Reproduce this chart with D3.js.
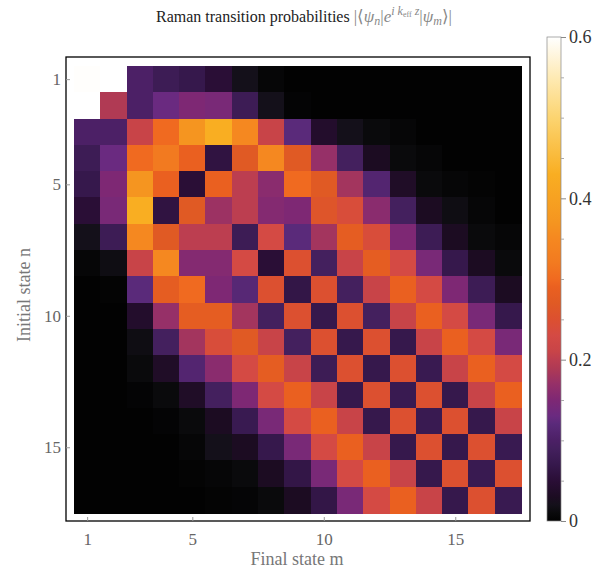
<!DOCTYPE html>
<html>
<head>
<meta charset="utf-8">
<script src="https://cdn.jsdelivr.net/npm/d3@7"></script>
<style>
  body { margin: 0; background: #fff; }
  svg text { font-family: "Liberation Serif", "DejaVu Serif", serif; }
</style>
</head>
<body>
<div id="chart"></div>
<script>
"use strict"
// rows = initial state n, cols = final state m
var estados = d3.range(1, 18)
var ticksEstado = [1, 5, 10, 15]
var ticksCor = [0, 0.2, 0.4, 0.6]

var linha1  = [0.598, 0.62, 0.10, 0.08, 0.07, 0.05, 0.02, 0.005, 0, 0, 0, 0, 0, 0, 0, 0, 0]
var linha2  = [0.62, 0.19, 0.10, 0.13, 0.15, 0.145, 0.08, 0.02, 0.003, 0, 0, 0, 0, 0, 0, 0, 0]
var linha3  = [0.10, 0.10, 0.21, 0.30, 0.37, 0.43, 0.35, 0.21, 0.12, 0.04, 0.02, 0.01, 0.005, 0, 0, 0, 0]
var linha4  = [0.08, 0.13, 0.30, 0.32, 0.29, 0.06, 0.27, 0.35, 0.27, 0.17, 0.09, 0.03, 0.01, 0.005, 0, 0, 0]
var linha5  = [0.07, 0.15, 0.37, 0.29, 0.05, 0.29, 0.20, 0.16, 0.30, 0.27, 0.18, 0.11, 0.035, 0.01, 0.005, 0.002, 0]
var linha6  = [0.05, 0.145, 0.43, 0.06, 0.27, 0.175, 0.20, 0.155, 0.15, 0.26, 0.24, 0.16, 0.09, 0.03, 0.015, 0.005, 0]
var linha7  = [0.02, 0.08, 0.35, 0.27, 0.20, 0.20, 0.08, 0.23, 0.12, 0.18, 0.28, 0.24, 0.15, 0.08, 0.03, 0.01, 0.005]
var linha8  = [0.005, 0.015, 0.21, 0.35, 0.155, 0.155, 0.23, 0.05, 0.25, 0.09, 0.21, 0.28, 0.23, 0.145, 0.07, 0.03, 0.01]
var linha9  = [0, 0.002, 0.12, 0.28, 0.30, 0.15, 0.115, 0.25, 0.065, 0.25, 0.09, 0.21, 0.29, 0.23, 0.15, 0.08, 0.03]
var linha10 = [0, 0, 0.04, 0.17, 0.28, 0.28, 0.18, 0.09, 0.25, 0.07, 0.25, 0.09, 0.21, 0.29, 0.23, 0.145, 0.07]
var linha11 = [0, 0, 0.015, 0.09, 0.18, 0.24, 0.27, 0.21, 0.09, 0.25, 0.07, 0.25, 0.07, 0.21, 0.29, 0.23, 0.145]
var linha12 = [0, 0, 0.01, 0.035, 0.11, 0.16, 0.23, 0.28, 0.21, 0.08, 0.25, 0.07, 0.25, 0.075, 0.21, 0.29, 0.23]
var linha13 = [0, 0, 0.003, 0.01, 0.035, 0.09, 0.15, 0.23, 0.29, 0.21, 0.07, 0.25, 0.075, 0.25, 0.07, 0.21, 0.29]
var linha14 = [0, 0, 0, 0.003, 0.01, 0.03, 0.075, 0.145, 0.23, 0.29, 0.21, 0.07, 0.25, 0.075, 0.25, 0.07, 0.21]
var linha15 = [0, 0, 0, 0, 0.005, 0.02, 0.03, 0.07, 0.145, 0.23, 0.29, 0.21, 0.07, 0.25, 0.07, 0.25, 0.075]
var linha16 = [0, 0, 0, 0, 0.002, 0.005, 0.01, 0.03, 0.065, 0.145, 0.23, 0.29, 0.21, 0.07, 0.25, 0.075, 0.25]
var linha17 = [0, 0, 0, 0, 0, 0.002, 0.004, 0.01, 0.03, 0.065, 0.145, 0.23, 0.29, 0.21, 0.07, 0.25, 0.075]

var matriz = [linha1, linha2, linha3, linha4, linha5, linha6, linha7, linha8, linha9,
              linha10, linha11, linha12, linha13, linha14, linha15, linha16, linha17]

// gradient stops (sunset-like)
var corValores = [0, 0.01, 0.02, 0.03, 0.05, 0.07, 0.09, 0.10, 0.12, 0.13, 0.15, 0.17, 0.19, 0.20, 0.21, 0.23, 0.25, 0.27, 0.29, 0.30, 0.32, 0.35, 0.37, 0.43, 0.50, 0.55, 0.60]
var corCores = ["#020202", "#0a0a0c", "#14101a", "#1c0c22", "#2a0e36", "#36184c", "#44205e", "#4c2066", "#5a2a7a", "#6a2a80", "#7e2874", "#963068", "#b03a54", "#bc3e50", "#c84448", "#d44a44", "#dc5030", "#e05a24", "#ea6020", "#f06a20", "#f27a20", "#f58820", "#f59520", "#f9ae22", "#fcd470", "#feeab4", "#ffffff"]

var largura = 608, altura = 571
var frame = {x0: 66, y0: 57, x1: 530, y1: 521}
var mat = {x0: 74, y0: 66, x1: 521, y1: 513}
var serif = '"Liberation Serif", "DejaVu Serif", serif'

var svg = d3.select('#chart').append('svg')
  .attr('width', largura).attr('height', altura)

var x = d3.scaleBand().domain(estados).range([mat.x0, mat.x1])
var y = d3.scaleBand().domain(estados).range([mat.y0, mat.y1])
var cor = d3.scaleLinear().domain(corValores).range(corCores).clamp(true)

var celulas = []
matriz.forEach(function (linha, i) {
  linha.forEach(function (v, j) {
    celulas.push({n: estados[i], m: estados[j], v: v})
  })
})

svg.append('g').selectAll('rect')
  .data(celulas)
  .enter().append('rect')
    .attr('x', d => x(d.m))
    .attr('y', d => y(d.n))
    .attr('width', x.bandwidth() + 0.5)
    .attr('height', y.bandwidth() + 0.5)
    .attr('fill', d => cor(d.v))
    .attr('shape-rendering', 'crispEdges')

// frame
svg.append('rect')
  .attr('x', frame.x0).attr('y', frame.y0)
  .attr('width', frame.x1 - frame.x0).attr('height', frame.y1 - frame.y0)
  .attr('fill', 'none').attr('stroke', '#000').attr('stroke-width', 1.3)

var xCentro = d3.scalePoint().domain(estados).range([mat.x0 + x.bandwidth() / 2, mat.x1 - x.bandwidth() / 2])
var yCentro = d3.scalePoint().domain(estados).range([mat.y0 + y.bandwidth() / 2, mat.y1 - y.bandwidth() / 2])

var eixoY = svg.append('g')
  .attr('transform', 'translate(' + frame.x0 + ',0)')
  .call(d3.axisLeft(yCentro).tickValues(ticksEstado).tickSizeInner(-4).tickSizeOuter(0).tickPadding(5))
eixoY.select('.domain').remove()
eixoY.selectAll('line').attr('stroke', '#999')
eixoY.selectAll('text').style('font-size', '17px').attr('fill', '#666').style('font-family', serif)

var eixoX = svg.append('g')
  .attr('transform', 'translate(0,' + frame.y1 + ')')
  .call(d3.axisBottom(xCentro).tickValues(ticksEstado).tickSizeInner(-4).tickSizeOuter(0).tickPadding(12))
eixoX.select('.domain').remove()
eixoX.selectAll('line').attr('stroke', '#999')
eixoX.selectAll('text').style('font-size', '17px').attr('fill', '#666').style('font-family', serif)

// axis labels
svg.append('text')
  .attr('x', 297).attr('y', 565)
  .attr('text-anchor', 'middle').style('font-size', '18px').attr('fill', '#777')
  .text('Final state m')
svg.append('text')
  .attr('transform', 'translate(30,295) rotate(-90)')
  .attr('text-anchor', 'middle').style('font-size', '18px').attr('fill', '#777')
  .text('Initial state n')

// title
var titulo = svg.append('text')
  .attr('x', 304).attr('y', 22)
  .attr('text-anchor', 'middle').style('font-size', '16px').attr('fill', '#222')
titulo.append('tspan').text('Raman transition probabilities ')
var mtx = titulo.append('tspan').attr('fill', '#888').style('font-size', '17px')
mtx.append('tspan').text('|\u27E8')
mtx.append('tspan').attr('font-style', 'italic').text('\u03C8')
mtx.append('tspan').attr('font-style', 'italic').style('font-size', '12px').attr('dy', 3).text('n')
mtx.append('tspan').attr('dy', -3).text('|')
mtx.append('tspan').attr('font-style', 'italic').text('e')
mtx.append('tspan').attr('font-style', 'italic').style('font-size', '12px').attr('dy', -7).text('i k')
mtx.append('tspan').style('font-size', '8px').attr('dy', 2).text('eff')
mtx.append('tspan').attr('font-style', 'italic').style('font-size', '12px').attr('dy', -2).text(' z')
mtx.append('tspan').attr('dy', 7).text('|')
mtx.append('tspan').attr('font-style', 'italic').text('\u03C8')
mtx.append('tspan').attr('font-style', 'italic').style('font-size', '12px').attr('dy', 3).text('m')
mtx.append('tspan').attr('dy', -3).text('\u27E9|')

// colorbar
var barra = {x: 547, w: 14, y0: 37, y1: 521}
var escalaBarra = d3.scaleLinear().domain([0, 0.6]).range([barra.y1, barra.y0])
var grad = svg.append('defs').append('linearGradient')
  .attr('id', 'gradBarra').attr('x1', 0).attr('y1', 1).attr('x2', 0).attr('y2', 0)
grad.selectAll('stop').data(corValores).enter().append('stop')
  .attr('offset', d => d / 0.6)
  .attr('stop-color', d => cor(d))
svg.append('rect')
  .attr('x', barra.x).attr('y', barra.y0)
  .attr('width', barra.w).attr('height', barra.y1 - barra.y0)
  .attr('fill', 'url(#gradBarra)')
  .attr('stroke', '#888').attr('stroke-width', 0.7)

var eixoBarra = svg.append('g')
  .attr('transform', 'translate(' + (barra.x + barra.w) + ',0)')
  .call(d3.axisRight(escalaBarra).tickValues(ticksCor).tickSize(5).tickPadding(3)
    .tickFormat(d => d === 0 ? '0' : d3.format('.1f')(d)))
eixoBarra.select('.domain').remove()
eixoBarra.selectAll('line').attr('stroke', '#888')
eixoBarra.selectAll('text').style('font-size', '18px').attr('fill', '#333').style('font-family', serif)
svg.append('g')
  .attr('transform', 'translate(' + (barra.x + barra.w) + ',0)')
  .call(d3.axisRight(escalaBarra).tickValues(d3.range(0.05, 0.6, 0.05).filter(v => Math.abs(v * 5 - Math.round(v * 5)) > 0.01)).tickSize(3).tickFormat(''))
  .call(g => g.select('.domain').remove())
  .selectAll('line').attr('stroke', '#aaa')
</script>
</body>
</html>
